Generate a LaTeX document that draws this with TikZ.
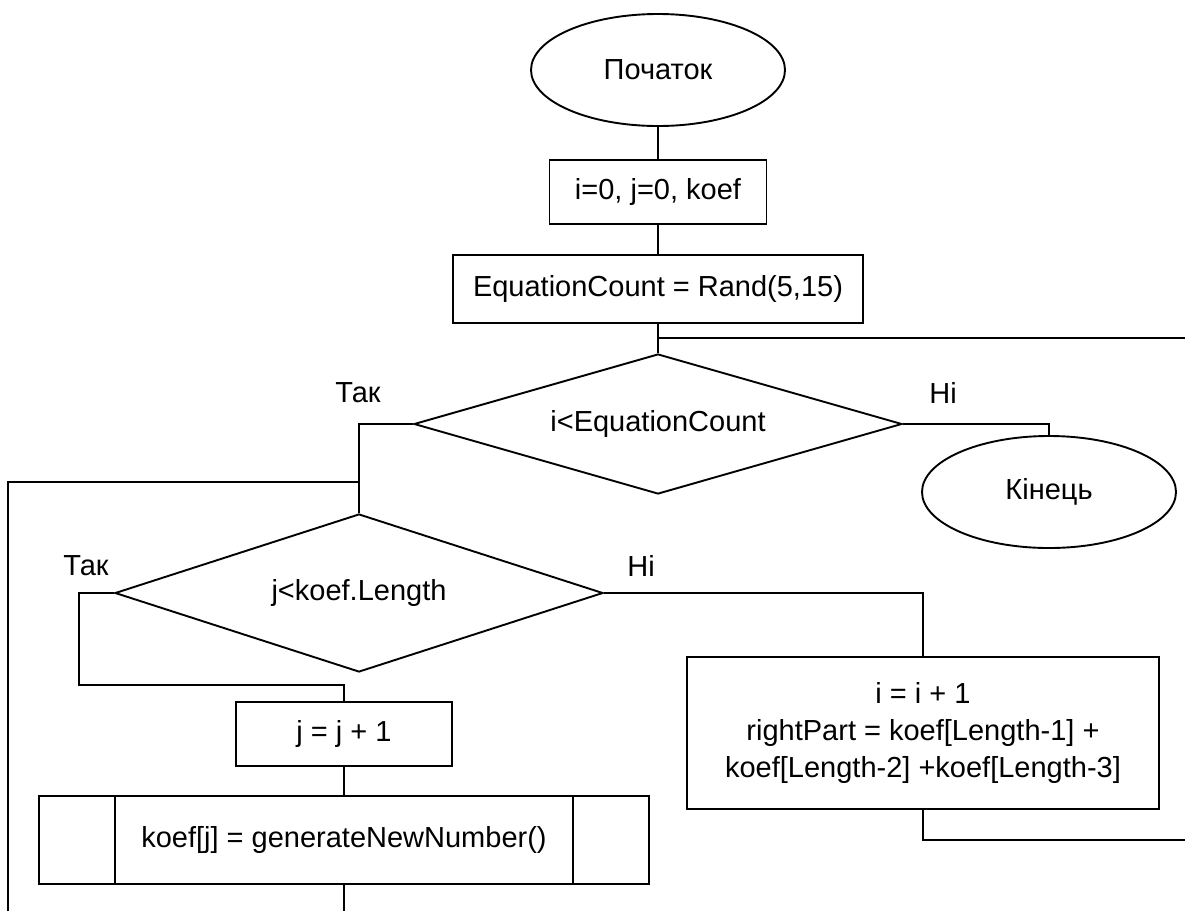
\documentclass[tikz,border=0pt]{standalone}
\usepackage{fontspec}
\setmainfont{Liberation Sans}
\usetikzlibrary{shapes.geometric}
\begin{document}
\begin{tikzpicture}[x=1pt,y=1pt,
  every node/.style={font=\fontsize{29}{37}\selectfont, inner sep=0pt},
  lw/.style={line width=1.9pt},
  terminal/.style={ellipse, draw, lw, minimum width=254pt, minimum height=112pt},
  procbox/.style={rectangle, draw, lw},
  decision/.style={diamond, draw, lw, aspect=3.5},
  conn/.style={lw, line join=miter}
]
\useasboundingbox (0,0) rectangle (1185,-911);

% blocks
\node[terminal] (start) at (658,-70) {Початок};
\node[procbox, minimum width=217pt, minimum height=64pt] (init) at (658,-192) {i=0, j=0, koef};
\node[procbox, minimum width=410pt, minimum height=68pt] (count) at (658,-289) {EquationCount = Rand(5,15)};
\node[decision, minimum width=488pt, minimum height=140pt] (d1) at (658,-424) {i<EquationCount};
\node[terminal] (end) at (1049,-492) {Кінець};
\node[decision, minimum width=488pt, minimum height=158pt] (d2) at (359,-593) {j<koef.Length};
\node[procbox, minimum width=216pt, minimum height=64pt] (incj) at (344,-734) {j = j + 1};
\node[procbox, minimum width=610pt, minimum height=88pt] (sub) at (344,-840) {koef[j] = generateNewNumber()};
\node[procbox, minimum width=472pt, minimum height=152pt, align=center] (inci) at (923,-733)
  {i = i + 1\\rightPart = koef[Length-1] +\\koef[Length-2] +koef[Length-3]};

% predefined-process side bars
\draw[lw] ([xshift=77pt]sub.north west) -- ([xshift=77pt]sub.south west);
\draw[lw] ([xshift=-77pt]sub.north east) -- ([xshift=-77pt]sub.south east);

% branch labels
\node (yes1) at (358,-393) {Так};
\node (no1) at (943,-393) {Ні};
\node (yes2) at (86,-566) {Так};
\node (no2) at (641,-566) {Ні};

% loop ends and joins
\coordinate (loopR) at (1185,-338);
\coordinate (joinR) at (658,-338);
\coordinate (loopL) at (8,-911);
\coordinate (joinL) at (359,-482);
\coordinate (subOut) at (344,-911);
\coordinate (incOut) at (1185,-840);

% connectors
\draw[conn] (start) -- (init);
\draw[conn] (init) -- (count);
\draw[conn] (count) -- (d1);
\draw[conn] (loopR) -- (joinR);
\draw[conn] (d1.west) -| (d2.north);
\draw[conn] (loopL) |- (joinL);
\draw[conn] (d1.east) -| (end.north);
\draw[conn] (d2.west) -- ++(-35,0) |- ([yshift=16pt]incj.north) -- (incj.north);
\draw[conn] (incj) -- (sub);
\draw[conn] (sub.south) -- (subOut);
\draw[conn] (d2.east) -| (inci.north);
\draw[conn] (inci.south) |- (incOut);
\end{tikzpicture}
\end{document}
